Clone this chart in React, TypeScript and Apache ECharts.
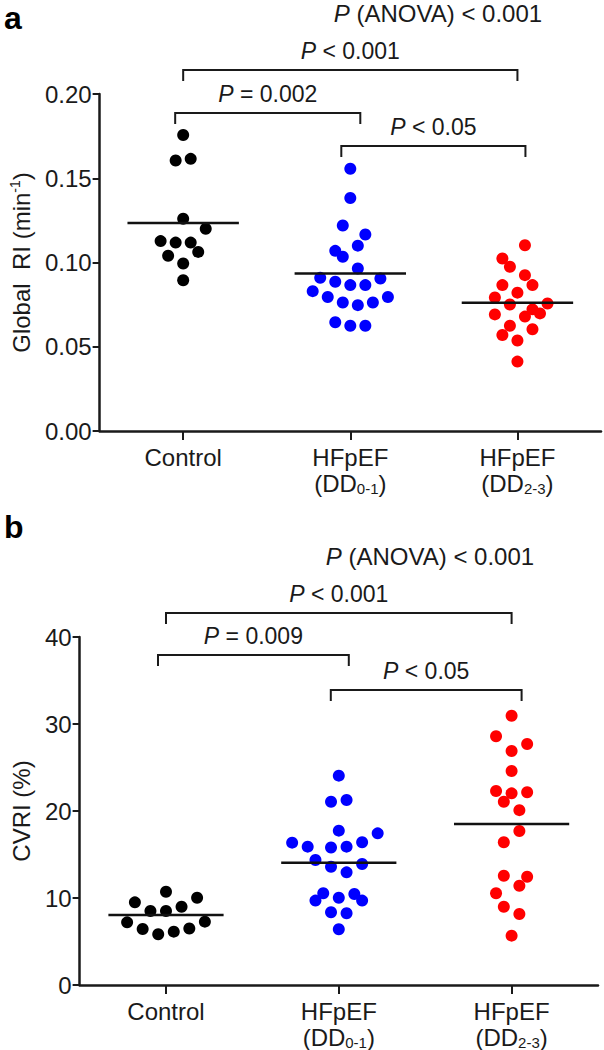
import React, { useEffect, useRef } from "react";
import * as echarts from "echarts";

// ---------- data ----------
const categories = ["Control", "HFpEF\n(DD{sub|0-1})", "HFpEF\n(DD{sub|2-3})"];

// Panel a: Global RI (min^-1)
const riControl = [0.1757, 0.1605, 0.1615, 0.126, 0.12, 0.1127, 0.1118, 0.1118, 0.104, 0.1063, 0.0994, 0.0895];
const riControlSlot = [0, -1, 1, 0, 3, -3, -1, 1, -2, 2, 0, 0];
const riDD01 = [0.1556, 0.1383, 0.122, 0.1166, 0.11, 0.1069, 0.1034, 0.0964, 0.0909, 0.0905, 0.0886, 0.0866, 0.0866, 0.083, 0.0795, 0.0795, 0.0763, 0.0763, 0.0747, 0.0645, 0.0625, 0.0625];
const riDD01Slot = [0, 0, -1, 2, 1, -2, -1, 1, -4, 4, -2, 0, 2, -5, -3, 5, -1, 3, 1, -2, 0, 2];
const riDD23 = [0.1102, 0.1024, 0.0975, 0.0925, 0.0866, 0.0866, 0.0821, 0.0793, 0.0757, 0.0751, 0.0722, 0.0698, 0.0692, 0.0679, 0.0625, 0.0604, 0.057, 0.0537, 0.0412];
const riDD23Slot = [1, -2, -1, 1, -2, 2, 0, -3, 4, -1, 2, 3, -3, 1, -1, 2, -2, 0, 0];
const riMeans = [0.1235, 0.0935, 0.0761];
const riTicks = [0, 0.2, 0.05];
const riTests = [
  { from: 0, to: 2, label: "< 0.001" },
  { from: 0, to: 1, label: "= 0.002" },
  { from: 1, to: 2, label: "< 0.05" },
];

// Panel b: CVRI (%)
const cvControl = [10.72, 10.03, 9.5, 9.0, 8.5, 8.5, 7.28, 7.2, 6.5, 6.44, 6.13, 5.83];
const cvControlSlot = [0, 4, -4, 2, -2, 0, 5, -5, 3, -3, 1, -1];
const cvDD01 = [24.06, 21.26, 21.07, 17.74, 17.43, 16.4, 16.36, 15.9, 15.9, 15.8, 14.37, 13.9, 13.6, 12.95, 10.54, 10.46, 10.03, 9.7, 9.7, 8.36, 8.24, 6.4];
const cvDD01Slot = [0, 1, -1, 0, 5, 3, -6, -4, 1, -1, -3, 3, -1, 1, -2, 2, 0, -3, 3, -1, 1, 0];
const cvDD23 = [30.95, 28.6, 27.7, 26.9, 24.6, 22.3, 22.15, 22.03, 21.07, 20.1, 17.7, 16.4, 12.56, 12.45, 11.4, 10.54, 9.0, 8.16, 5.67];
const cvDD23Slot = [0, -2, 2, 0, 0, -2, 2, 0, -1, 1, 1, -1, -1, 2, 1, -2, -1, 1, 0];
const cvMeans = [8.05, 14.06, 18.5];
const cvTicks = [0, 40, 10];
const cvTests = [
  { from: 0, to: 2, label: "< 0.001" },
  { from: 0, to: 1, label: "= 0.009" },
  { from: 1, to: 2, label: "< 0.05" },
];

// ---------- styles / layout ----------
const FONT = "Liberation Sans, Arial, sans-serif";
const INK = "#1a1a1a";
const COLORS = ["#000000", "#0000ff", "#ff0000"];
const SLOT = 0.045; // horizontal jitter step in category units

const panels = [
  {
    grid: { left: 97, top: 94, width: 504, height: 337 },
    letter: "a", letterY: 18, anovaX: 438, anovaY: 13,
    bracketY: [70, 113, 146], bracketDx: [[0, 0], [-8, 10], [-9, 8]],
    yName: "Global  RI (min{sup|-1})", nameGap: 64,
    fmt: (v: number) => v.toFixed(2),
  },
  {
    grid: { left: 76, top: 637, width: 522, height: 348 },
    letter: "b", letterY: 527, anovaX: 430, anovaY: 556,
    bracketY: [613, 655, 690], bracketDx: [[0, 0], [-8, 10], [-8, 10]],
    yName: "CVRI (%)", nameGap: 44,
    fmt: (v: number) => String(v),
  },
];

const panelData = [
  { groups: [riControl, riDD01, riDD23], slots: [riControlSlot, riDD01Slot, riDD23Slot], means: riMeans, ticks: riTicks, tests: riTests },
  { groups: [cvControl, cvDD01, cvDD23], slots: [cvControlSlot, cvDD01Slot, cvDD23Slot], means: cvMeans, ticks: cvTicks, tests: cvTests },
];

function buildOption() {
  const xAxis: any[] = [];
  const yAxis: any[] = [];
  const series: any[] = [];
  panels.forEach((p, pi) => {
    const d = panelData[pi];
    xAxis.push({
      gridIndex: pi,
      type: "category",
      data: categories,
      boundaryGap: true,
      axisLine: { show: true, onZero: false, lineStyle: { color: INK, width: 2.5 } },
      axisTick: { show: true, alignWithLabel: true, length: 9, lineStyle: { color: INK, width: 2 } },
      axisLabel: {
        color: INK, fontFamily: FONT, fontSize: 24, lineHeight: 26, margin: 13, interval: 0,
        rich: { sub: { fontSize: 15, fontFamily: FONT, color: INK, verticalAlign: "bottom", lineHeight: 16 } },
      },
      splitLine: { show: false },
    });
    xAxis.push({ gridIndex: pi, type: "value", min: -0.5, max: 2.5, show: false });
    yAxis.push({
      gridIndex: pi,
      type: "value",
      min: d.ticks[0], max: d.ticks[1], interval: d.ticks[2],
      axisLine: { show: true, onZero: false, lineStyle: { color: INK, width: 2.5 } },
      axisTick: { show: true, length: 7, lineStyle: { color: INK, width: 2 } },
      axisLabel: { color: INK, fontFamily: FONT, fontSize: 24, margin: 8, formatter: p.fmt },
      splitLine: { show: false },
      name: p.yName,
      nameLocation: "middle",
      nameRotate: 90,
      nameGap: p.nameGap,
      nameTextStyle: {
        color: INK, fontFamily: FONT, fontSize: 24, lineHeight: 26,
        rich: { sup: { fontSize: 14, fontFamily: FONT, color: INK, verticalAlign: "top", lineHeight: 14 } },
      },
    });
    d.groups.forEach((vals, gi) => {
      series.push({
        type: "scatter",
        xAxisIndex: pi * 2 + 1,
        yAxisIndex: pi,
        symbol: "circle",
        symbolSize: 12,
        itemStyle: { color: COLORS[gi], opacity: 1 },
        data: vals.map((v, k) => [gi + d.slots[gi][k] * SLOT, v]),
        z: 2,
      });
      series.push({
        type: "line",
        xAxisIndex: pi * 2 + 1,
        yAxisIndex: pi,
        symbol: "none",
        lineStyle: { color: "#111", width: 2.5 },
        data: [[gi - 1 / 3, d.means[gi]], [gi + 1 / 3, d.means[gi]]],
        z: 3,
      });
    });
  });
  return {
    animation: false,
    backgroundColor: "#ffffff",
    grid: panels.map((p) => ({ ...p.grid, containLabel: false })),
    xAxis,
    yAxis,
    series,
  };
}

function pText(x: number, y: number, rest: string, size = 23) {
  return {
    type: "text",
    x, y,
    style: {
      text: "{it|P}" + rest,
      fontFamily: FONT, fontSize: size, fill: INK,
      align: "center", verticalAlign: "middle",
      rich: { it: { fontStyle: "italic", fontFamily: FONT, fontSize: size, fill: INK } },
    },
  };
}

function buildGraphic(chart: any) {
  const els: any[] = [];
  panels.forEach((p, pi) => {
    const d = panelData[pi];
    els.push({
      type: "text", x: 4, y: p.letterY,
      style: { text: p.letter, fontFamily: FONT, fontSize: 32, fontWeight: "bold", fill: "#000", verticalAlign: "middle" },
    });
    els.push(pText(p.anovaX, p.anovaY, " (ANOVA) < 0.001", 24));
    d.tests.forEach((t, ti) => {
      const x1 = chart.convertToPixel({ xAxisIndex: pi * 2 + 1 }, t.from) + p.bracketDx[ti][0];
      const x2 = chart.convertToPixel({ xAxisIndex: pi * 2 + 1 }, t.to) + p.bracketDx[ti][1];
      const y = p.bracketY[ti];
      els.push({
        type: "polyline",
        shape: { points: [[x1, y + 11], [x1, y], [x2, y], [x2, y + 11]] },
        style: { stroke: INK, lineWidth: 2, fill: null },
      });
      els.push(pText((x1 + x2) / 2, y - 19, " " + t.label));
    });
  });
  return els;
}

export default function App() {
  const ref = useRef<HTMLDivElement>(null);
  useEffect(() => {
    document.body.style.margin = "0";
    const chart = echarts.init(ref.current!, null, { renderer: "svg" });
    chart.setOption(buildOption());
    chart.setOption({ graphic: buildGraphic(chart) });
    return () => chart.dispose();
  }, []);
  return <div ref={ref} style={{ width: 604, height: 1050 }} />;
}
